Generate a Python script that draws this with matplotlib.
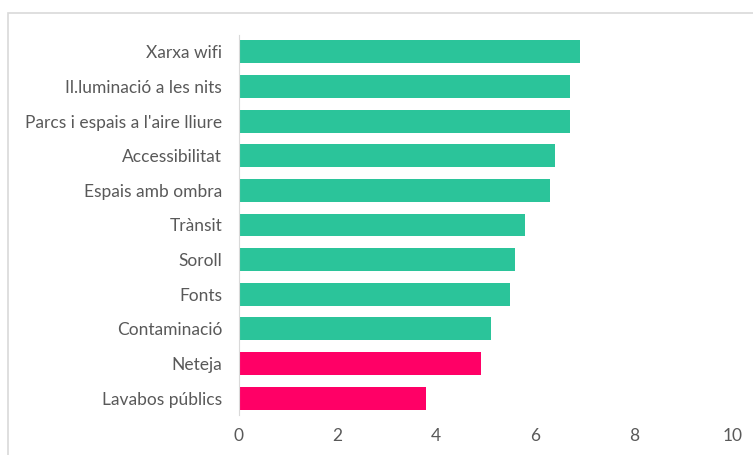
import matplotlib.pyplot as plt
from matplotlib.patches import Rectangle

categories = ['Xarxa wifi', 'Il.luminació a les nits', "Parcs i espais a l'aire lliure",
              'Accessibilitat', 'Espais amb ombra', 'Trànsit', 'Soroll', 'Fonts',
              'Contaminació', 'Neteja', 'Lavabos públics']
values = [6.9, 6.7, 6.7, 6.4, 6.3, 5.8, 5.6, 5.5, 5.1, 4.9, 3.8]
colors = ['#2BC49A'] * 9 + ['#FF0066'] * 2
xticks = [0, 2, 4, 6, 8, 10]

plt.rcParams['font.family'] = ['Lato', 'DejaVu Sans']

fig = plt.figure(figsize=(7.53, 4.55), dpi=100)
ax = fig.add_axes([0.317, 0.087, 0.656, 0.837])

ypos = list(range(len(categories)))
ax.barh(ypos, values, height=0.66, color=colors)
ax.set_yticks(ypos)
ax.set_yticklabels(categories)
ax.set_ylim(len(categories) - 0.5, -0.5)
ax.set_xlim(0, 10)
ax.set_xticks(xticks)
ax.tick_params(axis='both', length=0, labelsize=12.5, labelcolor='#595959')
ax.tick_params(axis='y', pad=12)
ax.tick_params(axis='x', pad=9)
for s in ['top', 'right', 'bottom']:
    ax.spines[s].set_visible(False)
ax.spines['left'].set_color('#D9D9D9')

# chart frame
fig.patches.append(Rectangle((8 / 753, -0.1), 1.0, 1 - 13 / 455 + 0.1,
                             transform=fig.transFigure, fill=False,
                             edgecolor='#D9D9D9', linewidth=1.2))

fig.savefig('out.png', dpi=100)
